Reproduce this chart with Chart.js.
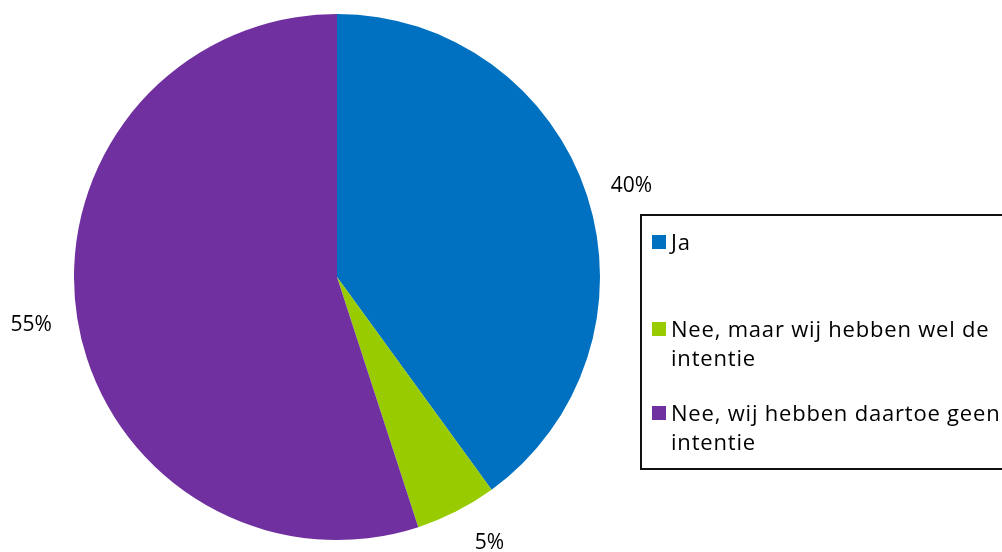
<!DOCTYPE html>
<html>
<head>
<meta charset="utf-8">
<script src="https://cdn.jsdelivr.net/npm/chart.js@4/dist/chart.umd.min.js"></script>
<style>
  html, body { margin: 0; padding: 0; background: #fff; }
  #wrap { position: relative; width: 1002px; height: 552px; overflow: hidden; }
  #c { position: absolute; left: 0; top: 0; }
  #legend { position: absolute; left: 640px; top: 214px; width: 380px; height: 256px;
    border: 2px solid #111; box-sizing: border-box; font-family: "Open Sans", sans-serif;
    font-size: 22px; letter-spacing: 0.8px; color: #000; font-variant-ligatures: none; }
  .item { position: absolute; left: 29px; line-height: 29px; white-space: nowrap; }
  .sw { position: absolute; left: -19px; top: 8px; width: 14px; height: 14px; }
</style>
</head>
<body>
<div id="wrap">
  <canvas id="c" width="1002" height="552"></canvas>
  <div id="legend"></div>
</div>
<script>
const categories = ["Ja", "Nee, maar wij hebben wel de intentie", "Nee, wij hebben daartoe geen intentie"];
const legendLines = [["Ja"], ["Nee, maar wij hebben wel de", "intentie"], ["Nee, wij hebben daartoe geen", "intentie"]];
const values = [40, 5, 55];
const colors = ["#0070C0", "#99CC00", "#7030A0"];

const legendTops = [11, 98, 182];
const legend = document.getElementById('legend');
legendLines.forEach((lines, i) => {
  const d = document.createElement('div');
  d.className = 'item';
  d.style.top = legendTops[i] + 'px';
  const sw = document.createElement('span');
  sw.className = 'sw';
  sw.style.background = colors[i];
  d.appendChild(sw);
  lines.forEach((t, j) => {
    if (j) d.appendChild(document.createElement('br'));
    d.appendChild(document.createTextNode(t));
  });
  legend.appendChild(d);
});

const pctLabels = {
  id: 'pctLabels',
  afterDatasetsDraw(chart) {
    const ctx = chart.ctx;
    const meta = chart.getDatasetMeta(0);
    const total = values.reduce((a, b) => a + b, 0);
    const fs = 21;
    ctx.save();
    ctx.font = fs + 'px "Open Sans", sans-serif';
    ctx.fillStyle = '#000';
    ctx.textAlign = 'center';
    ctx.textBaseline = 'alphabetic';
    const h = 20, gap = 26;
    meta.data.forEach((arc, i) => {
      const p = arc.getProps(['x', 'y', 'startAngle', 'endAngle', 'outerRadius'], true);
      const mid = (p.startAngle + p.endAngle) / 2;
      const txt = Math.round(values[i] / total * 100) + '%';
      const w = ctx.measureText(txt).width;
      const r = p.outerRadius + gap;
      let x = p.x + Math.cos(mid) * r + Math.cos(mid) * w / 2;
      let y = p.y + Math.sin(mid) * r + Math.sin(mid) * h / 2;
      const maxY = chart.height - 11;
      if (y > maxY) {
        y = maxY;
        // slide outward horizontally so the box corner keeps its distance from the pie
        const dy = (y - h / 2) - p.y;
        const dx = Math.sqrt(Math.max(0, r * r - dy * dy));
        x = p.x + Math.sign(Math.cos(mid)) * (dx + w / 2);
      }
      ctx.fillText(txt, x, y + fs * 0.36);
    });
    ctx.restore();
  }
};

new Chart(document.getElementById('c'), {
  type: 'pie',
  data: {
    labels: categories,
    datasets: [{ data: values, backgroundColor: colors, borderWidth: 0 }]
  },
  options: {
    responsive: false,
    animation: false,
    layout: { padding: { left: 74, right: 402, top: 14, bottom: 12 } },
    plugins: { legend: { display: false }, tooltip: { enabled: false } }
  },
  plugins: [pctLabels]
});
</script>
</body>
</html>
